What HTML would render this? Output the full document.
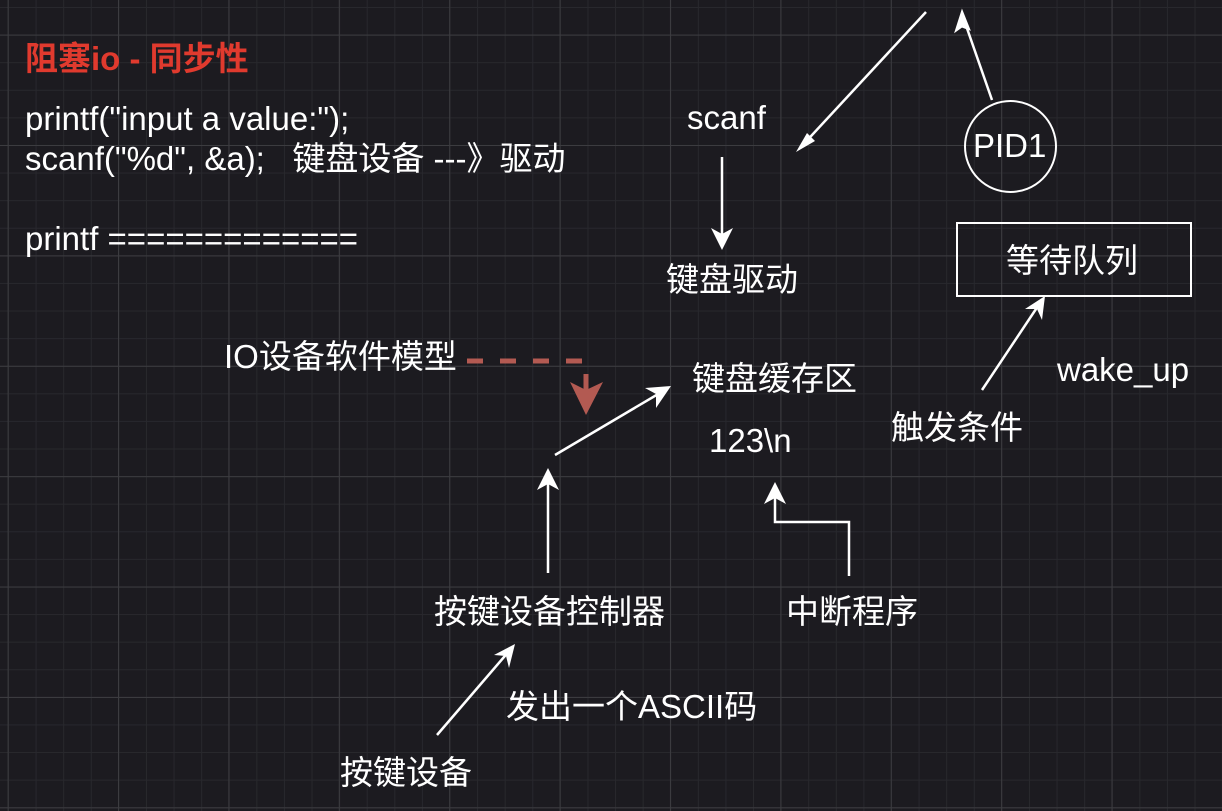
<!DOCTYPE html>
<html><head><meta charset="utf-8"><style>
html,body{margin:0;padding:0}
body{width:1222px;height:811px;overflow:hidden;background:#1c1b20;position:relative;font-family:"Liberation Sans","Noto Sans CJK SC",sans-serif;color:#fff}
.g{position:absolute;inset:0;background-image:
linear-gradient(to right,#3c3c40 1px,transparent 1px),
linear-gradient(to bottom,#3c3c40 1px,transparent 1px),
linear-gradient(to right,#28282d 1px,transparent 1px),
linear-gradient(to bottom,#28282d 1px,transparent 1px);
background-size:110.4px 110.4px,110.4px 110.4px,27.6px 27.6px,27.6px 27.6px;
background-position:118px 145px,118px 145px,8px 7px,8px 7px}
.t{position:absolute;white-space:nowrap;font-size:33px;line-height:1}
svg{position:absolute;left:0;top:0}
</style></head><body>
<div class="g"></div>
<div class="t" style="left:25px;top:42px;color:#e03a2e;font-weight:bold">阻塞io - 同步性</div>
<div class="t" style="left:25px;top:102px">printf("input a value:");</div>
<div class="t" style="left:25px;top:142px">scanf("%d", &amp;a);&nbsp;&nbsp; 键盘设备 ---》驱动</div>
<div class="t" style="left:25px;top:222px">printf =============</div>
<div class="t" style="left:687px;top:101px">scanf</div>
<div class="t" style="left:666px;top:263px">键盘驱动</div>
<div class="t" style="left:224px;top:340px">IO设备软件模型</div>
<div class="t" style="left:692px;top:362px">键盘缓存区</div>
<div class="t" style="left:709px;top:424px">123\n</div>
<div class="t" style="left:1057px;top:353px">wake_up</div>
<div class="t" style="left:891px;top:411px">触发条件</div>
<div class="t" style="left:434px;top:595px">按键设备控制器</div>
<div class="t" style="left:786px;top:595px">中断程序</div>
<div class="t" style="left:506px;top:690px">发出一个ASCII码</div>
<div class="t" style="left:340px;top:756px">按键设备</div>
<div style="position:absolute;left:956px;top:222px;width:236px;height:75px;border:2px solid #fff;box-sizing:border-box"></div>
<div class="t" style="left:1006px;top:244px">等待队列</div>
<div style="position:absolute;left:964px;top:100px;width:93px;height:93px;border:2px solid #fff;border-radius:50%;box-sizing:border-box"></div>
<div class="t" style="left:973px;top:129px">PID1</div>
<svg width="1222" height="811">
<g stroke="#fff" stroke-width="2.5" fill="none">
<line x1="926" y1="12" x2="800" y2="148"/>
<path d="M807,133 L796,152 L815,141z" fill="#fff" stroke="none"/>
<line x1="992" y1="100" x2="962" y2="14"/>
<path d="M962,10 L955,32 L962,27 L970,30z" fill="#fff" stroke="#fff" stroke-width="1"/>
<line x1="722" y1="157" x2="722" y2="240"/>
<path d="M722,250 L711,228 L722,234 L733,228z" fill="#fff" stroke="none"/>
<line x1="982" y1="390" x2="1042" y2="300"/>
<path d="M1045,296 L1025,309 L1037,309 L1042,320z" fill="#fff" stroke="none"/>
<line x1="555" y1="455" x2="665" y2="390"/>
<path d="M671,386 L645,388 L656,394 L656,408z" fill="#fff" stroke="none"/>
<line x1="548" y1="573" x2="548" y2="478"/>
<path d="M548,468 L537,490 L548,484 L559,490z" fill="#fff" stroke="none"/>
<path d="M849,576 L849,522 L775,522 L775,492"/>
<path d="M775,482 L764,504 L775,498 L786,504z" fill="#fff" stroke="none"/>
<line x1="437" y1="735" x2="510" y2="650"/>
<path d="M515,644 L494,655 L506,656 L509,668z" fill="#fff" stroke="none"/>
</g>
<line x1="467" y1="361" x2="585" y2="361" stroke="#b35a52" stroke-width="5" stroke-dasharray="16,17"/>
<line x1="586" y1="374" x2="586" y2="392" stroke="#b35a52" stroke-width="5"/>
<path d="M586,415 L570,382 L586,390 L603,382z" fill="#b35a52"/>
</svg>
</body></html>
